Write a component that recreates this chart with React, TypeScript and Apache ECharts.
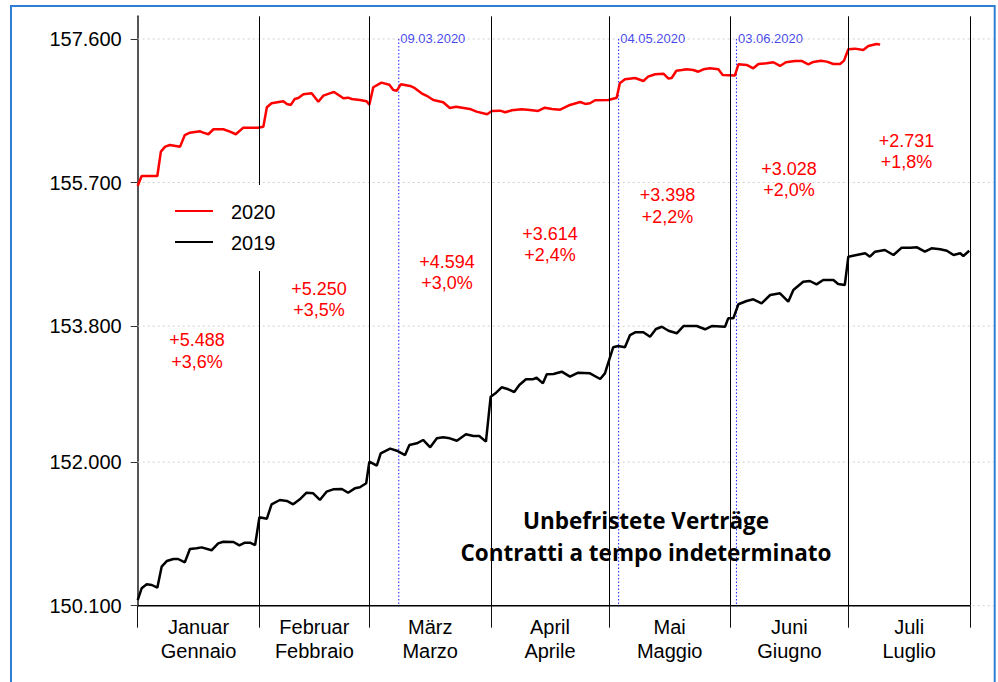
import React, { useEffect, useRef } from "react";
import * as echarts from "echarts";

// ---------- data ----------
const monthBoundaries = [0, 31, 59, 90, 120, 151, 181, 212];
const monthMids = [15.5, 45, 74.5, 105, 135.5, 166, 196.5];
const monthLabels = [
  "Januar\nGennaio",
  "Februar\nFebbraio",
  "März\nMarzo",
  "April\nAprile",
  "Mai\nMaggio",
  "Juni\nGiugno",
  "Juli\nLuglio",
];
const yTicks = [150100, 152000, 153800, 155700, 157600];
const dateMarkerDays = [66.5, 122.5, 152.5];
const dateMarkerLabels = ["09.03.2020", "04.05.2020", "03.06.2020"];
const diffAbs = ["+5.488", "+5.250", "+4.594", "+3.614", "+3.398", "+3.028", "+2.731"];
const diffPct = ["+3,6%", "+3,5%", "+3,0%", "+2,4%", "+2,2%", "+2,0%", "+1,8%"];
const seriesNames = ["2020", "2019"];
const titleLines = ["Unbefristete Verträge", "Contratti a tempo indeterminato"];

const days2020 = [
  0, 1, 5, 5.9, 7, 8.2, 10.8, 12, 13.3, 15.9, 16.7, 18, 19.3, 21.8, 23.5, 25, 26.9, 30.7,
  32, 32.9, 34.1, 37.1, 38, 39, 40, 40.9, 42.2, 44.3, 46, 47.3, 50, 52.4, 53.6, 54.5, 56.6,
  58.3, 59, 60, 62.1, 64.1, 65.1, 66, 67, 69.4, 70.6, 72.3, 74, 75.3, 77.8, 79.5, 81.1,
  84.6, 86.3, 89, 90.2, 92.3, 93.6, 95.3, 97.8, 99.9, 102, 103.7, 105.5, 107.6, 110.1,
  112.7, 114, 115.2, 116.5, 119.9, 122, 122.8, 124.1, 126.7, 128.8, 130, 131.8, 133.9,
  135.2, 136, 137.2, 138.6, 139.8, 141.5, 142.8, 144.1, 145.8, 147.9, 149, 152.1, 153,
  155.1, 156.8, 158.1, 160.2, 161.9, 163.6, 165.1, 167.4, 169.1, 170.8, 172.1, 174, 175.5,
  177.2, 178.9, 179.9, 181, 182.7, 184.8, 186.1, 188.2, 189.1,
];
const values2020 = [
  155654, 155787, 155787, 156109, 156175, 156197, 156175, 156329, 156360, 156378, 156360,
  156339, 156405, 156405, 156373, 156339, 156426, 156426, 156439, 156696, 156749, 156775,
  156740, 156727, 156806, 156819, 156868, 156881, 156770, 156850, 156899, 156815, 156823,
  156806, 156793, 156775, 156730, 156961, 157022, 156995, 156925, 156916, 157000, 156978,
  156948, 156881, 156836, 156793, 156762, 156687, 156704, 156674, 156638, 156603, 156647,
  156651, 156630, 156656, 156670, 156660, 156647, 156691, 156674, 156664, 156727, 156766,
  156740, 156749, 156789, 156793, 156823, 157014, 157067, 157084, 157044, 157101, 157133,
  157141, 157075, 157084, 157180, 157189, 157198, 157189, 157167, 157198, 157212, 157198,
  157124, 157115, 157265, 157256, 157212, 157269, 157278, 157292, 157243, 157292, 157309,
  157309, 157265, 157296, 157313, 157300, 157269, 157269, 157313, 157464, 157472, 157454,
  157507, 157534, 157525,
];

const days2019 = [
  0, 1, 2.3, 3.6, 5, 6.1, 7.4, 9.1, 10.3, 12, 13.3, 15, 16.3, 18.8, 20.5, 21.8, 24.4, 25.9,
  27.3, 28.6, 29.9, 31, 32.9, 34.1, 36.2, 38, 39.6, 41.3, 43, 44.7, 46.4, 48.1, 49.8, 52,
  53.6, 55.3, 56.6, 58.2, 59, 60.9, 61.9, 64.3, 66, 68.1, 69.2, 71.1, 72.7, 74.5, 76.2,
  77.8, 79.5, 81.3, 83.6, 85.5, 87, 88.7, 89.9, 91.3, 92.7, 94.4, 95.9, 97.2, 98.9, 100.6,
  101.6, 103.2, 104.2, 105.9, 108, 110.1, 112.2, 115.2, 117.8, 119, 121.1, 122.4, 124.1,
  125.4, 126.7, 128.8, 130.5, 132, 133.5, 135.2, 137.3, 139, 142.4, 144.5, 146.2, 149.6,
  150.4, 151.7, 153, 155.1, 156.8, 158.9, 161.1, 163.6, 165.7, 167, 169.5, 171.2, 172.9,
  174.6, 177.2, 178.4, 180.1, 181, 183.1, 185.3, 186.5, 187.8, 190.3, 192.5, 194.6, 196.8,
  198.5, 200.5, 202.2, 204.4, 206.1, 207.8, 209.5, 210.3, 211.8,
];
const values2019 = [
  150175, 150330, 150383, 150374, 150338, 150616, 150691, 150718, 150718, 150674, 150850,
  150859, 150872, 150833, 150925, 150947, 150943, 150899, 150934, 150934, 150903, 151270,
  151251, 151442, 151499, 151486, 151442, 151508, 151595, 151587, 151499, 151609, 151640,
  151645, 151595, 151653, 151667, 151720, 152006, 151953, 152117, 152178, 152151, 152094,
  152227, 152249, 152293, 152196, 152315, 152328, 152315, 152283, 152368, 152346, 152346,
  152271, 152866, 152919, 152990, 152964, 152928, 153021, 153096, 153096, 153117, 153043,
  153162, 153166, 153197, 153131, 153184, 153175, 153100, 153175, 153520, 153537, 153520,
  153682, 153718, 153718, 153660, 153762, 153792, 153739, 153705, 153801, 153801, 153758,
  153801, 153792, 153903, 153903, 154089, 154132, 154155, 154102, 154212, 154234, 154123,
  154278, 154388, 154397, 154353, 154410, 154410, 154357, 154344, 154719, 154741, 154764,
  154719, 154785, 154807, 154741, 154838, 154838, 154843, 154785, 154830, 154817, 154798,
  154741, 154764, 154728, 154798,
];

// ---------- layout ----------
const W = 998;
const H = 682;
const X_MAX = 218;
const FONT = "'Liberation Sans', Arial, sans-serif";
const annotationPos = [
  [197, 351],
  [319, 299.5],
  [447, 272.5],
  [550, 244.5],
  [667.5, 206],
  [789, 179.5],
  [906.5, 151.5],
];

const fmtThousands = (v: number) =>
  String(Math.round(v)).replace(/\B(?=(\d{3})+(?!\d))/g, ".");

export default function App() {
  const ref = useRef<HTMLDivElement>(null);

  useEffect(() => {
    document.body.style.margin = "0";
    const chart = echarts.init(ref.current!, undefined, { renderer: "svg", width: W, height: H });

    const zip = (xs: number[], ys: number[]) => xs.map((x, i) => [x, ys[i]]);

    const graphics: any[] = [];
    // frame
    graphics.push({
      type: "rect",
      z: 100,
      shape: { x: 11, y: 6, width: 983.7, height: 720 },
      style: { fill: "none", stroke: "#2e7fd2", lineWidth: 2 },
    });
    // legend box
    graphics.push({
      type: "rect",
      z: 50,
      shape: { x: 145, y: 185, width: 190, height: 86 },
      style: { fill: "#ffffff" },
    });
    const legendColors = ["#ff0000", "#000000"];
    seriesNames.forEach((n, i) => {
      const cy = 211 + i * 31;
      graphics.push({
        type: "line",
        z: 51,
        shape: { x1: 175, y1: cy, x2: 213, y2: cy },
        style: { stroke: legendColors[i], lineWidth: 2 },
      });
      graphics.push({
        type: "text",
        z: 51,
        x: 231,
        y: cy + 1,
        style: {
          text: n,
          fill: "#000",
          font: `20px ${FONT}`,
          textAlign: "left",
          textVerticalAlign: "middle",
        },
      });
    });
    // annotations
    diffAbs.forEach((t, i) => {
      graphics.push({
        type: "text",
        z: 60,
        x: annotationPos[i][0],
        y: annotationPos[i][1],
        style: {
          text: t + "\n" + diffPct[i],
          fill: "#ff0000",
          font: `18px ${FONT}`,
          lineHeight: 21.5,
          textAlign: "center",
          textVerticalAlign: "middle",
        },
      });
    });
    // title
    graphics.push({
      type: "text",
      z: 60,
      x: 646,
      y: 536,
      style: {
        text: titleLines.join("\n"),
        fill: "#000",
        font: `bold 22.5px 'Open Sans', sans-serif`,
        lineHeight: 32,
        textAlign: "center",
        textVerticalAlign: "middle",
      },
    });

    const monthLineStyle = { color: "#000", type: "solid", width: 1 };

    const gridLineSeries = yTicks.map((v, i) => ({
      name: "grid-" + i,
      type: "line",
      z: 0,
      silent: true,
      clip: false,
      symbol: "none",
      data: [
        [0, v],
        [X_MAX, v],
      ],
      lineStyle: { color: "#d0d0d0", type: [2, 3], width: 1 },
      itemStyle: { color: "#d0d0d0" },
    }));

    const dateLineSeries = dateMarkerDays.map((d, i) => ({
      name: "date-" + i,
      type: "line",
      z: 2,
      silent: true,
      symbol: "none",
      data: [
        [d, yTicks[yTicks.length - 1]],
        [d, yTicks[0]],
      ],
      lineStyle: { color: "#1a1aff", type: [1.5, 2], width: 1 },
      itemStyle: { color: "#1a1aff" },
    }));

    const option: any = {
      animation: false,
      backgroundColor: "#ffffff",
      textStyle: { fontFamily: FONT },
      grid: {
        left: 137.7,
        top: 16.3,
        right: W - 993.6,
        bottom: H - 605.7,
        containLabel: false,
        outerBoundsMode: "none",
      },
      xAxis: {
        type: "value",
        min: 0,
        max: X_MAX,
        axisLine: { show: false, onZero: false },
        splitLine: { show: false },
        axisTick: {
          show: true,
          customValues: monthBoundaries,
          length: 22,
          lineStyle: { color: "#111", width: 1 },
        },
        axisLabel: {
          show: true,
          customValues: monthMids,
          margin: 9,
          fontSize: 20,
          lineHeight: 24,
          color: "#000",
          fontFamily: FONT,
          formatter: (v: number) => {
            const i = monthMids.findIndex((m) => Math.abs(m - v) < 0.01);
            return i >= 0 ? monthLabels[i] : "";
          },
        },
      },
      yAxis: {
        type: "value",
        min: 150100,
        max: 157900,
        axisLine: { show: true, onZero: false, lineStyle: { color: "#555", width: 2 } },
        splitLine: { show: false },
        axisTick: {
          show: true,
          customValues: yTicks,
          length: 7,
          lineStyle: { color: "#333", width: 1 },
        },
        axisLabel: {
          show: true,
          customValues: yTicks,
          margin: 16,
          fontSize: 20,
          color: "#000",
          fontFamily: FONT,
          formatter: (v: number) => fmtThousands(v),
        },
      },
      series: [
        ...gridLineSeries,
        {
          name: "axis",
          type: "line",
          z: 1,
          clip: false,
          symbol: "none",
          silent: true,
          data: [
            [monthBoundaries[0], yTicks[0]],
            [monthBoundaries[monthBoundaries.length - 1], yTicks[0]],
          ],
          lineStyle: { color: "#000", width: 1.5 },
          itemStyle: { color: "#000" },
          markLine: {
            silent: true,
            symbol: ["none", "none"],
            label: { show: false },
            lineStyle: monthLineStyle,
            data: monthBoundaries.slice(1).map((d) => ({ xAxis: d, lineStyle: monthLineStyle })),
          },
        },
        ...dateLineSeries,
        {
          name: "dates",
          type: "scatter",
          z: 2,
          silent: true,
          symbol: "circle",
          symbolSize: 1,
          itemStyle: { color: "rgba(0,0,0,0)" },
          data: dateMarkerDays.map((d, i) => ({
            value: [d, yTicks[yTicks.length - 1]],
            name: dateMarkerLabels[i],
          })),
          label: {
            show: true,
            position: "right",
            distance: 1,
            formatter: "{b}",
            color: "#1515e6",
            fontSize: 13,
            fontFamily: FONT,
          },
        },
        {
          name: seriesNames[1],
          type: "line",
          z: 3,
          symbol: "none",
          data: zip(days2019, values2019),
          lineStyle: { color: "#000000", width: 2.5 },
          itemStyle: { color: "#000000" },
        },
        {
          name: seriesNames[0],
          type: "line",
          z: 4,
          symbol: "none",
          data: zip(days2020, values2020),
          lineStyle: { color: "#ff0000", width: 2.5 },
          itemStyle: { color: "#ff0000" },
        },
      ],
      graphic: { elements: graphics },
    };

    chart.setOption(option);
    return () => chart.dispose();
  }, []);

  return (
    <div
      ref={ref}
      style={{ position: "fixed", left: 0, top: 0, width: W, height: H, background: "#fff" }}
    />
  );
}
